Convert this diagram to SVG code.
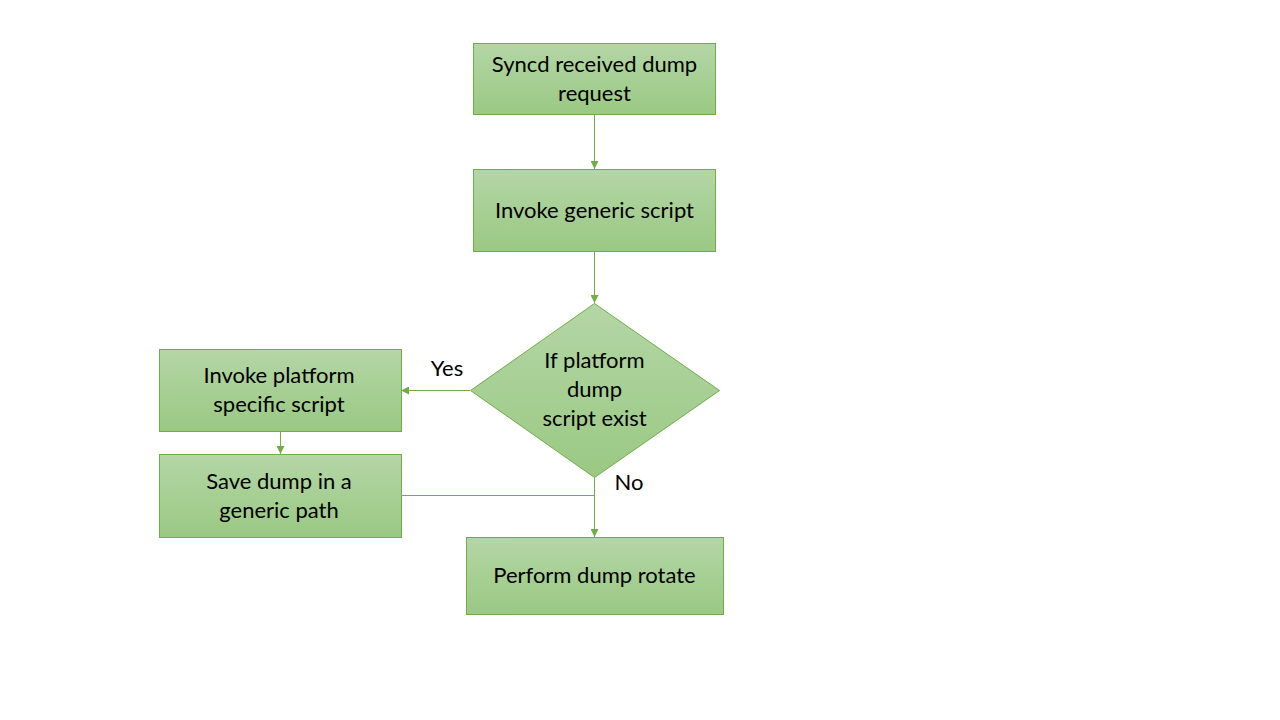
<svg xmlns="http://www.w3.org/2000/svg" width="1280" height="720" viewBox="0 0 1280 720">
<defs>
<linearGradient id="g" x1="0" y1="0" x2="0" y2="1">
<stop offset="0" stop-color="#b4d6a6"/>
<stop offset="1" stop-color="#9ac983"/>
</linearGradient>
<marker id="arr" viewBox="0 0 10 10" refX="10" refY="5" markerWidth="8" markerHeight="8" markerUnits="userSpaceOnUse" orient="auto">
<path d="M0,0 L10,5 L0,10 z" fill="#70ad47"/>
</marker>
<style>
.n{fill:url(#g);stroke:#70ad47;stroke-width:1}
.t{font-family:Lato,"Liberation Sans",sans-serif;font-size:22px;fill:#000;text-anchor:middle}
.c{fill:none;stroke:#70ad47;stroke-width:1}
</style>
</defs>
<rect width="1280" height="720" fill="#fff"/>
<g id="connectors">
<line class="c" x1="594.5" y1="114" x2="594.5" y2="169" marker-end="url(#arr)"/>
<line class="c" x1="594.5" y1="252" x2="594.5" y2="303" marker-end="url(#arr)"/>
<line class="c" x1="470" y1="390.5" x2="401" y2="390.5" marker-end="url(#arr)"/>
<line class="c" x1="280.5" y1="431" x2="280.5" y2="454" marker-end="url(#arr)"/>
<line class="c" x1="594.5" y1="477" x2="594.5" y2="537" marker-end="url(#arr)"/>
<line class="c" x1="401" y1="495.5" x2="594.5" y2="495.5"/>
<text class="t" x="447" y="376">Yes</text>
<text class="t" x="629" y="490">No</text>
</g>
<g id="n1">
<rect class="n" x="473.5" y="43.5" width="242" height="71"/>
<text class="t" x="594.5" y="72">Syncd received dump</text>
<text class="t" x="594.5" y="101">request</text>
</g>
<g id="n2">
<rect class="n" x="473.5" y="169.5" width="242" height="82"/>
<text class="t" x="594.5" y="218">Invoke generic script</text>
</g>
<g id="n3">
<polygon class="n" points="594.5,303.5 719.5,390.5 594.5,477.5 470.5,390.5"/>
<text class="t" x="594.5" y="368">If platform</text>
<text class="t" x="594.5" y="397">dump</text>
<text class="t" x="594.5" y="426">script exist</text>
</g>
<g id="n4">
<rect class="n" x="159.5" y="349.5" width="242" height="82"/>
<text class="t" x="279" y="383">Invoke platform</text>
<text class="t" x="279" y="412">specific script</text>
</g>
<g id="n5">
<rect class="n" x="159.5" y="454.5" width="242" height="83"/>
<text class="t" x="279" y="489">Save dump in a</text>
<text class="t" x="279" y="518">generic path</text>
</g>
<g id="n6">
<rect class="n" x="466.5" y="537.5" width="257" height="77"/>
<text class="t" x="594.5" y="583">Perform dump rotate</text>
</g>
</svg>
